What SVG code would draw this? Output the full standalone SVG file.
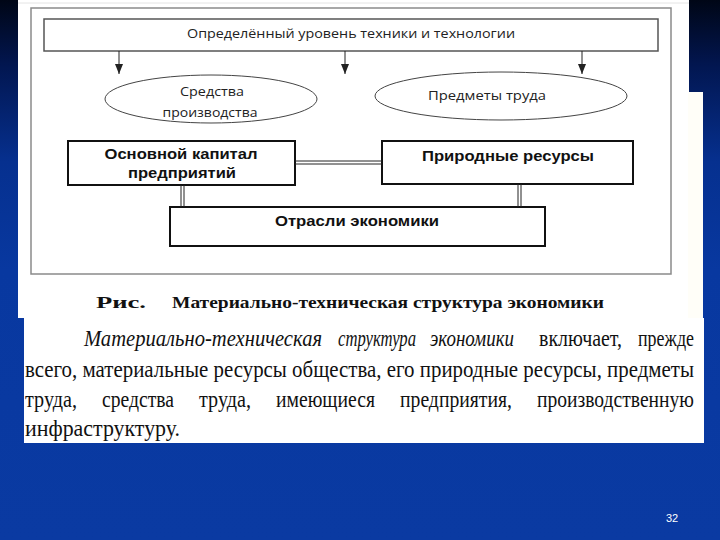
<svg xmlns="http://www.w3.org/2000/svg" width="720" height="540" viewBox="0 0 720 540">
<defs>
<linearGradient id="bg" x1="0" y1="0" x2="0" y2="1">
<stop offset="0" stop-color="#000616"/>
<stop offset="0.12" stop-color="#021650"/>
<stop offset="0.3" stop-color="#06308f"/>
<stop offset="0.5" stop-color="#0838a0"/>
<stop offset="1" stop-color="#0a3aa2"/>
</linearGradient>
<marker id="arr" viewBox="0 0 10 8" refX="10" refY="4" markerWidth="10" markerHeight="8" markerUnits="userSpaceOnUse" orient="auto">
<path d="M0,0 L10,4 L0,8 Z" fill="#222"/>
</marker>
<style>
.thin{fill:#fff;stroke:#555;stroke-width:1.5}
.ell{fill:#fff;stroke:#444;stroke-width:1}
.bold{fill:#fff;stroke:#111;stroke-width:2}
.lt{font-family:"Open Sans","Liberation Sans",sans-serif;font-size:13px;fill:#222}
.bt{font-family:"Liberation Sans",Arial,sans-serif;font-weight:bold;font-size:15px;fill:#111}
.cap{font-family:"Liberation Serif",Tinos,"Times New Roman","DejaVu Serif","Noto Serif",serif;font-weight:bold;font-size:16px;fill:#111}
.p{font-family:"Liberation Serif",Tinos,"Times New Roman","DejaVu Serif","Noto Serif",serif;font-size:24px;fill:#111}
.pi{font-style:italic}
.conn{stroke:#222;stroke-width:1;fill:none}
</style>
</defs>
<rect x="0" y="0" width="720" height="540" fill="url(#bg)"/>
<rect x="18" y="0" width="671" height="318" fill="#fff"/>
<rect x="688" y="92" width="15" height="226" fill="#fffef8"/>
<rect x="24" y="318" width="680" height="125" fill="#fff"/>
<line x1="18" y1="3" x2="689" y2="3" stroke="#e4e4e4" stroke-width="1"/>
<rect x="31" y="8" width="640" height="266" fill="none" stroke="#8a8a8a" stroke-width="1.5"/>

<g id="n-top">
<rect class="thin" x="44" y="19" width="614" height="32"/>
<text class="lt" x="351" y="38" text-anchor="middle" textLength="328" lengthAdjust="spacingAndGlyphs">Определённый уровень техники и технологии</text>
</g>
<g id="n-sredstva">
<ellipse class="ell" cx="211" cy="99" rx="106" ry="24"/>
<text class="lt" x="212" y="96" text-anchor="middle" textLength="64" lengthAdjust="spacingAndGlyphs">Средства</text>
<text class="lt" x="210" y="117" text-anchor="middle" textLength="95" lengthAdjust="spacingAndGlyphs">производства</text>
</g>
<g id="n-predmety">
<ellipse class="ell" cx="501" cy="96" rx="126" ry="24"/>
<text class="lt" x="487" y="100" text-anchor="middle" textLength="118" lengthAdjust="spacingAndGlyphs">Предметы труда</text>
</g>
<g id="n-kapital">
<rect class="bold" x="68" y="141" width="227" height="44"/>
<text class="bt" x="181" y="159" text-anchor="middle" textLength="153" lengthAdjust="spacingAndGlyphs">Основной капитал</text>
<text class="bt" x="182" y="178" text-anchor="middle" textLength="108" lengthAdjust="spacingAndGlyphs">предприятий</text>
</g>
<g id="n-resursy">
<rect class="bold" x="382" y="141" width="251" height="43"/>
<text class="bt" x="508" y="161" text-anchor="middle" textLength="172" lengthAdjust="spacingAndGlyphs">Природные ресурсы</text>
</g>
<g id="n-otrasli">
<rect class="bold" x="170" y="207" width="375" height="39"/>
<text class="bt" x="357" y="226" text-anchor="middle" textLength="164" lengthAdjust="spacingAndGlyphs">Отрасли экономики</text>
</g>

<g id="connectors">
<line class="conn" x1="119" y1="51" x2="119" y2="74" marker-end="url(#arr)"/>
<line class="conn" x1="345" y1="51" x2="345" y2="74" marker-end="url(#arr)"/>
<line class="conn" x1="582" y1="51" x2="582" y2="74" marker-end="url(#arr)"/>
<line class="conn" x1="295" y1="161" x2="382" y2="161"/>
<line class="conn" x1="295" y1="164" x2="382" y2="164"/>
<line class="conn" x1="181" y1="185" x2="181" y2="207"/>
<line class="conn" x1="184" y1="185" x2="184" y2="207"/>
<line class="conn" x1="518" y1="184" x2="518" y2="207"/>
<line class="conn" x1="521" y1="184" x2="521" y2="207"/>
</g>

<text class="cap" x="96" y="308" textLength="50" lengthAdjust="spacingAndGlyphs">Рис.</text>
<text class="cap" x="172" y="308" textLength="432" lengthAdjust="spacingAndGlyphs">Материально-техническая структура экономики</text>

<text class="p pi" x="84" y="346" textLength="238" lengthAdjust="spacingAndGlyphs">Материально-техническая</text>
<text class="p pi" x="338" y="346" textLength="78" lengthAdjust="spacingAndGlyphs">структура</text>
<text class="p pi" x="430" y="346" textLength="84" lengthAdjust="spacingAndGlyphs">экономики</text>
<text class="p" x="539" y="346" textLength="83" lengthAdjust="spacingAndGlyphs">включает,</text>
<text class="p" x="638" y="346" textLength="56" lengthAdjust="spacingAndGlyphs">прежде</text>

<text class="p" x="25" y="377" textLength="669" lengthAdjust="spacingAndGlyphs">всего, материальные ресурсы общества, его природные ресурсы, предметы</text>

<text class="p" x="25" y="407" textLength="52" lengthAdjust="spacingAndGlyphs">труда,</text>
<text class="p" x="102" y="407" textLength="72" lengthAdjust="spacingAndGlyphs">средства</text>
<text class="p" x="199" y="407" textLength="52" lengthAdjust="spacingAndGlyphs">труда,</text>
<text class="p" x="276" y="407" textLength="99" lengthAdjust="spacingAndGlyphs">имеющиеся</text>
<text class="p" x="400" y="407" textLength="112" lengthAdjust="spacingAndGlyphs">предприятия,</text>
<text class="p" x="537" y="407" textLength="157" lengthAdjust="spacingAndGlyphs">производственную</text>

<text class="p" x="25" y="436" textLength="155" lengthAdjust="spacingAndGlyphs">инфраструктуру.</text>

<text x="672" y="522" text-anchor="middle" font-family="Liberation Sans, Arial, sans-serif" font-size="11" fill="#fff">32</text>
</svg>
